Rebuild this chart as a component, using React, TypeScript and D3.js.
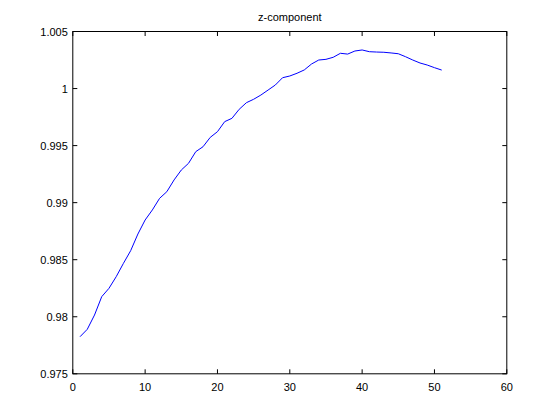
import React, { useEffect, useRef } from "react";
import * as d3 from "d3";

// sample index 1..51 and z-component values
const xIndex: number[] = d3.range(1, 52);
const zValues: number[] = [
  0.97825, 0.9789, 0.98015, 0.98176, 0.98249, 0.98351, 0.98468, 0.98579, 0.98725, 0.98848,
  0.98936, 0.99038, 0.99096, 0.99199, 0.99286, 0.99345, 0.99447, 0.9949, 0.99572, 0.99622,
  0.9971, 0.99739, 0.99818, 0.99876, 0.99906, 0.99943, 0.99987, 1.00031, 1.00095, 1.0011,
  1.00134, 1.00163, 1.00215, 1.0025, 1.00256, 1.00274, 1.00309, 1.00302, 1.00329, 1.00338,
  1.00323, 1.0032, 1.00318, 1.00312, 1.00305, 1.00279, 1.0025, 1.00224, 1.00206, 1.00183,
  1.00162,
];
const xTicks: number[] = [0, 10, 20, 30, 40, 50, 60];
const yTicks: number[] = [0.975, 0.98, 0.985, 0.99, 0.995, 1, 1.005];
const yTickLabels: string[] = ["0.975", "0.98", "0.985", "0.99", "0.995", "1", "1.005"];
const title = "z-component";

const App = () => {
  const ref = useRef<SVGSVGElement>(null);
  const width = 560;
  const height = 420;

  useEffect(() => {
    const svg = d3.select(ref.current);
    svg.selectAll("*").remove();

    const left = 72.8, right = 506.8, top = 31.5, bottom = 373.8;
    const x = d3.scaleLinear().domain([0, 60]).range([left, right]);
    const y = d3.scaleLinear().domain([0.975, 1.005]).range([bottom, top]);
    const font = "Helvetica, 'Liberation Sans', Arial, sans-serif";

    svg.append("rect").attr("width", width).attr("height", height).attr("fill", "#fff");

    // box
    svg
      .append("rect")
      .attr("x", left)
      .attr("y", top)
      .attr("width", right - left)
      .attr("height", bottom - top)
      .attr("fill", "#fff")
      .attr("stroke", "#000")
      .attr("stroke-width", 1);

    // inward ticks on all four sides
    const tl = 4.5;
    const g = svg.append("g").attr("stroke", "#000").attr("stroke-width", 1);
    xTicks.forEach((t) => {
      g.append("line").attr("x1", x(t)).attr("x2", x(t)).attr("y1", bottom).attr("y2", bottom - tl);
      g.append("line").attr("x1", x(t)).attr("x2", x(t)).attr("y1", top).attr("y2", top + tl);
    });
    yTicks.forEach((t) => {
      g.append("line").attr("x1", left).attr("x2", left + tl).attr("y1", y(t)).attr("y2", y(t));
      g.append("line").attr("x1", right).attr("x2", right - tl).attr("y1", y(t)).attr("y2", y(t));
    });

    svg
      .append("g")
      .selectAll("text")
      .data(xTicks)
      .enter()
      .append("text")
      .attr("x", (d) => x(d))
      .attr("y", bottom + 17)
      .attr("text-anchor", "middle")
      .attr("font-family", font)
      .attr("font-size", 11)
      .text((d) => String(d));

    svg
      .append("g")
      .selectAll("text")
      .data(yTicks)
      .enter()
      .append("text")
      .attr("x", left - 5)
      .attr("y", (d) => y(d) + 4)
      .attr("text-anchor", "end")
      .attr("font-family", font)
      .attr("font-size", 11)
      .text((d, i) => yTickLabels[i]);

    svg
      .append("text")
      .attr("x", (left + right) / 2)
      .attr("y", 21)
      .attr("text-anchor", "middle")
      .attr("font-family", font)
      .attr("font-size", 11)
      .text(title);

    const line = d3
      .line<number>()
      .x((d, i) => x(xIndex[i]))
      .y((d) => y(d));

    svg
      .append("path")
      .datum(zValues)
      .attr("d", line)
      .attr("fill", "none")
      .attr("stroke", "#0000ff")
      .attr("stroke-width", 1);
  }, []);

  return (
    <svg
      ref={ref}
      width={width}
      height={height}
      style={{ position: "absolute", left: 0, top: 0, display: "block" }}
    />
  );
};

export default App;
